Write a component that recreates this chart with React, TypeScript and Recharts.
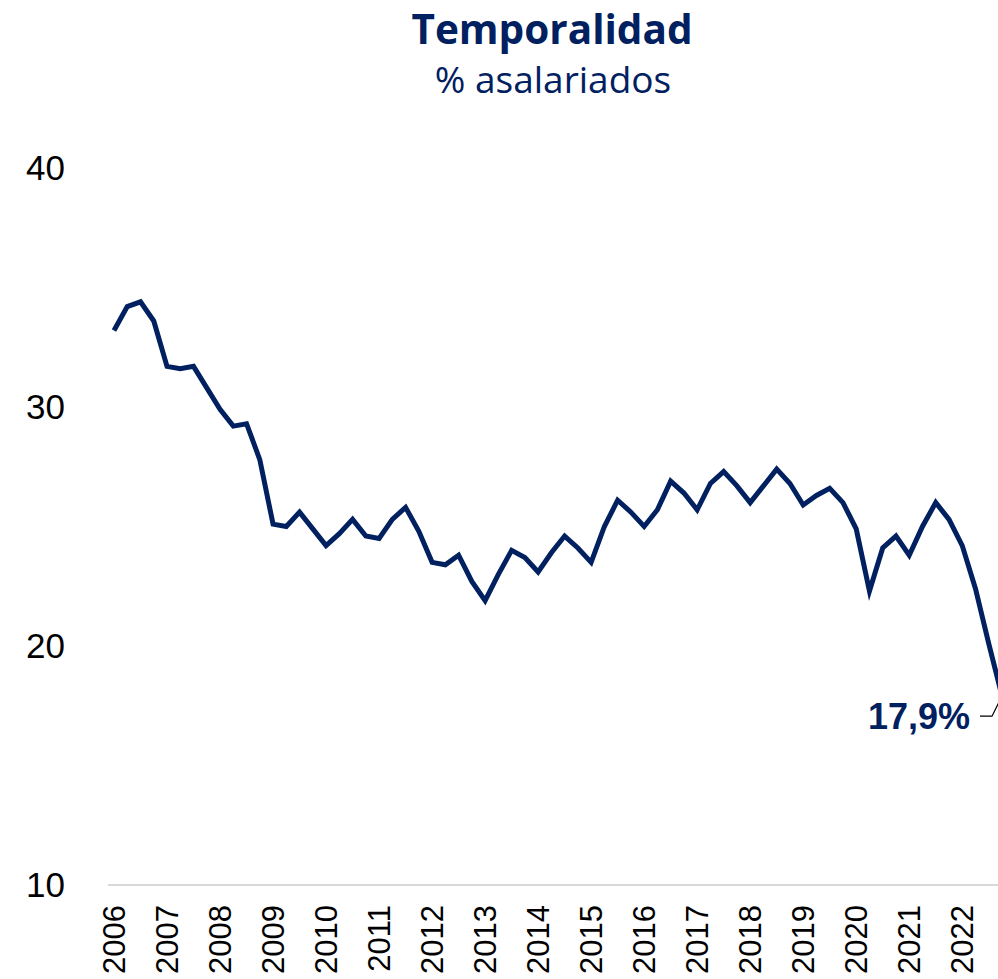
import React from 'react';
import { LineChart, Line, XAxis, YAxis } from 'recharts';

// quarters 2006T1 .. 2022T4
const YEARS = [2006, 2007, 2008, 2009, 2010, 2011, 2012, 2013, 2014, 2015, 2016, 2017, 2018, 2019, 2020, 2021, 2022];
const QUARTERS = ['T1', 'T2', 'T3', 'T4'];

// tasa de temporalidad, % asalariados
const TEMPORALIDAD = [
  33.2, 34.2, 34.4, 33.6,
  31.7, 31.6, 31.7, 30.8,
  29.9, 29.2, 29.3, 27.8,
  25.1, 25.0, 25.6, 24.9,
  24.2, 24.7, 25.3, 24.6,
  24.5, 25.3, 25.8, 24.8,
  23.5, 23.4, 23.8, 22.7,
  21.9, 23.0, 24.0, 23.7,
  23.1, 23.9, 24.6, 24.1,
  23.5, 25.0, 26.1, 25.6,
  25.0, 25.7, 26.9, 26.4,
  25.7, 26.8, 27.3, 26.7,
  26.0, 26.7, 27.4, 26.8,
  25.9, 26.3, 26.6, 26.0,
  24.9, 22.3, 24.1, 24.6,
  23.8, 25.0, 26.0, 25.3,
  24.2, 22.4, 20.1, 17.9,
];

const Y_TICKS = [10, 20, 30, 40];

const NAVY = '#002060';

const data = YEARS.flatMap((y) => QUARTERS.map((q) => `${y}${q}`)).map((periodo, i) => ({
  periodo,
  valor: TEMPORALIDAD[i],
}));

const lastIndex = data.length - 1;

const YearTick = (props: any) => {
  const { x, y, payload } = props;
  return (
    <text
      x={x}
      y={y}
      transform={`rotate(-90, ${x}, ${y})`}
      textAnchor="end"
      dominantBaseline="central"
      fill="#000"
      fontSize={31}
      fontFamily="'Liberation Sans', Arial, sans-serif"
    >
      {String(payload.value).slice(0, 4)}
    </text>
  );
};

const LastLabel = (props: any) => {
  const { x, y, index } = props;
  if (index !== lastIndex) return null;
  return (
    <g>
      <polyline
        points={`${x - 22},${y + 20} ${x - 10},${y + 20} ${x - 2},${y + 4}`}
        fill="none"
        stroke="#000"
        strokeWidth={1.2}
      />
      <text
        x={x - 32}
        y={y + 20}
        textAnchor="end"
        dominantBaseline="central"
        fill={NAVY}
        fontSize={36}
        fontWeight={700}
        fontFamily="'Liberation Sans', Arial, sans-serif"
      >
        {`${data[index].valor.toFixed(1).replace('.', ',')}%`}
      </text>
    </g>
  );
};

export default function App() {
  return (
    <div style={{ position: 'fixed', left: 0, top: 0, width: 998, height: 979, overflow: 'hidden', background: '#fff' }}>
      <div
        style={{
          position: 'absolute', left: 0, width: 1104, top: 9, textAlign: 'center',
          fontFamily: "'Open Sans', sans-serif", fontWeight: 700, fontSize: 40.5, lineHeight: 1, color: NAVY,
        }}
      >
        Temporalidad
      </div>
      <div
        style={{
          position: 'absolute', left: 0, width: 1106, top: 60, textAlign: 'center',
          fontFamily: "'Open Sans', sans-serif", fontSize: 37, lineHeight: 1, color: NAVY,
        }}
      >
        % asalariados
      </div>
      <div style={{ position: 'absolute', left: 0, top: 0 }}>
        <LineChart width={1020} height={979} data={data} margin={{ top: 168, right: 12, bottom: 0, left: 0 }}>
          <XAxis
            dataKey="periodo"
            interval={3}
            padding={{ left: 6, right: 6 }}
            axisLine={{ stroke: '#d9d9d9', strokeWidth: 2 }}
            tickLine={false}
            tickSize={0}
            tickMargin={20}
            height={94}
            tick={<YearTick />}
          />
          <YAxis
            domain={[10, 40]}
            ticks={Y_TICKS}
            width={108}
            axisLine={false}
            tickLine={false}
            tickSize={0}
            tickMargin={43}
            tick={{ fill: '#000', fontSize: 35, fontFamily: "'Liberation Sans', Arial, sans-serif" }}
          />
          <Line
            type="linear"
            dataKey="valor"
            stroke={NAVY}
            strokeWidth={5}
            dot={false}
            isAnimationActive={false}
            label={<LastLabel />}
          />
        </LineChart>
      </div>
    </div>
  );
}
